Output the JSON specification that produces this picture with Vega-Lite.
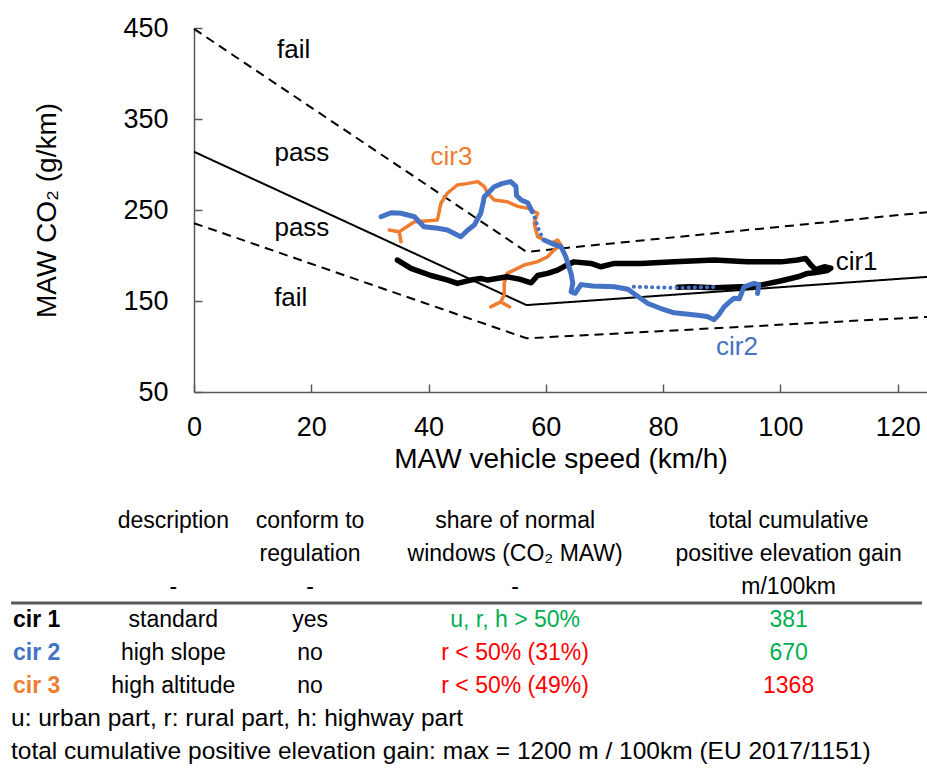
{
  "$schema": "https://vega.github.io/schema/vega-lite/v6.json",
  "background": "white",
  "padding": {"left": 9, "top": 14, "right": 0, "bottom": 0},
  "spacing": 31,
  "config": {
    "font": "Liberation Sans",
    "view": {"stroke": null},
    "axis": {
      "grid": false,
      "domainColor": "#595959", "domainWidth": 1.5,
      "tickColor": "#595959", "tickWidth": 1.5, "tickSize": -8,
      "labelColor": "#000000", "labelFont": "Liberation Sans", "labelFontSize": 27, "labelFlush": false,
      "titleColor": "#000000", "titleFont": "Liberation Sans", "titleFontSize": 28, "titleFontWeight": "normal"
    }
  },
  "resolve": {"scale": {"color": "independent"}},
  "datasets": {
    "limits": [
      {"line": "reference", "kind": "limit", "speed": 0, "co2": 314},
      {"line": "reference", "kind": "limit", "speed": 56.7, "co2": 145.5},
      {"line": "reference", "kind": "limit", "speed": 125, "co2": 176.5},
      {"line": "upper", "kind": "tolerance", "speed": 0, "co2": 449},
      {"line": "upper", "kind": "tolerance", "speed": 56.7, "co2": 204},
      {"line": "upper", "kind": "tolerance", "speed": 125, "co2": 247.5},
      {"line": "lower", "kind": "tolerance", "speed": 0, "co2": 235.5},
      {"line": "lower", "kind": "tolerance", "speed": 56.7, "co2": 109},
      {"line": "lower", "kind": "tolerance", "speed": 125, "co2": 132.5}
    ],
    "zones": [
      {"zone": "fail", "speed": 17, "co2": 426},
      {"zone": "pass", "speed": 18.4, "co2": 313},
      {"zone": "pass", "speed": 18.4, "co2": 230},
      {"zone": "fail", "speed": 16.5, "co2": 153}
    ],
    "circuitLabels": [
      {"circuit": "cir1", "speed": 113, "co2": 192.4},
      {"circuit": "cir2", "speed": 92.6, "co2": 99.5},
      {"circuit": "cir3", "speed": 43.9, "co2": 308.3}
    ],
    "traces": [
      {"circuit": "cir1", "seg": 1, "coverage": "dense", "i": 0, "speed": 34.7, "co2": 195},
      {"circuit": "cir1", "seg": 1, "coverage": "dense", "i": 1, "speed": 37, "co2": 185.8},
      {"circuit": "cir1", "seg": 1, "coverage": "dense", "i": 2, "speed": 40.4, "co2": 178},
      {"circuit": "cir1", "seg": 1, "coverage": "dense", "i": 3, "speed": 43.3, "co2": 173},
      {"circuit": "cir1", "seg": 1, "coverage": "dense", "i": 4, "speed": 44.9, "co2": 169.3},
      {"circuit": "cir1", "seg": 1, "coverage": "dense", "i": 5, "speed": 47.2, "co2": 173},
      {"circuit": "cir1", "seg": 1, "coverage": "dense", "i": 6, "speed": 48.9, "co2": 174.8},
      {"circuit": "cir1", "seg": 1, "coverage": "dense", "i": 7, "speed": 50.1, "co2": 173},
      {"circuit": "cir1", "seg": 1, "coverage": "dense", "i": 8, "speed": 53.4, "co2": 176.6},
      {"circuit": "cir1", "seg": 1, "coverage": "dense", "i": 9, "speed": 55.5, "co2": 174},
      {"circuit": "cir1", "seg": 1, "coverage": "dense", "i": 10, "speed": 57.5, "co2": 170},
      {"circuit": "cir1", "seg": 1, "coverage": "dense", "i": 11, "speed": 58.6, "co2": 178},
      {"circuit": "cir1", "seg": 1, "coverage": "dense", "i": 12, "speed": 60.3, "co2": 180.3},
      {"circuit": "cir1", "seg": 1, "coverage": "dense", "i": 13, "speed": 62, "co2": 184},
      {"circuit": "cir1", "seg": 1, "coverage": "dense", "i": 14, "speed": 63.7, "co2": 190},
      {"circuit": "cir1", "seg": 1, "coverage": "dense", "i": 15, "speed": 64.8, "co2": 193},
      {"circuit": "cir1", "seg": 1, "coverage": "dense", "i": 16, "speed": 67.7, "co2": 191.3},
      {"circuit": "cir1", "seg": 1, "coverage": "dense", "i": 17, "speed": 69.4, "co2": 187.6},
      {"circuit": "cir1", "seg": 1, "coverage": "dense", "i": 18, "speed": 71.7, "co2": 191.3},
      {"circuit": "cir1", "seg": 1, "coverage": "dense", "i": 19, "speed": 76.2, "co2": 191.3},
      {"circuit": "cir1", "seg": 1, "coverage": "dense", "i": 20, "speed": 81.9, "co2": 193},
      {"circuit": "cir1", "seg": 1, "coverage": "dense", "i": 21, "speed": 88.7, "co2": 195},
      {"circuit": "cir1", "seg": 1, "coverage": "dense", "i": 22, "speed": 94.4, "co2": 193},
      {"circuit": "cir1", "seg": 1, "coverage": "dense", "i": 23, "speed": 100.1, "co2": 193},
      {"circuit": "cir1", "seg": 1, "coverage": "dense", "i": 24, "speed": 102.9, "co2": 195},
      {"circuit": "cir1", "seg": 1, "coverage": "dense", "i": 25, "speed": 104.3, "co2": 196.8},
      {"circuit": "cir1", "seg": 1, "coverage": "dense", "i": 26, "speed": 105.2, "co2": 189.5},
      {"circuit": "cir1", "seg": 1, "coverage": "dense", "i": 27, "speed": 106, "co2": 184.5},
      {"circuit": "cir1", "seg": 1, "coverage": "dense", "i": 28, "speed": 107.5, "co2": 187.6},
      {"circuit": "cir1", "seg": 1, "coverage": "dense", "i": 29, "speed": 108.6, "co2": 186},
      {"circuit": "cir1", "seg": 1, "coverage": "dense", "i": 30, "speed": 108, "co2": 183.5},
      {"circuit": "cir1", "seg": 1, "coverage": "dense", "i": 31, "speed": 105.8, "co2": 181},
      {"circuit": "cir1", "seg": 1, "coverage": "dense", "i": 32, "speed": 104.6, "co2": 180.3},
      {"circuit": "cir1", "seg": 1, "coverage": "dense", "i": 33, "speed": 103, "co2": 176.6},
      {"circuit": "cir1", "seg": 1, "coverage": "dense", "i": 34, "speed": 100, "co2": 172},
      {"circuit": "cir1", "seg": 1, "coverage": "dense", "i": 35, "speed": 97, "co2": 168},
      {"circuit": "cir1", "seg": 1, "coverage": "dense", "i": 36, "speed": 94.4, "co2": 166},
      {"circuit": "cir1", "seg": 1, "coverage": "dense", "i": 37, "speed": 88.7, "co2": 164.5},
      {"circuit": "cir1", "seg": 1, "coverage": "dense", "i": 38, "speed": 84.7, "co2": 165.6},
      {"circuit": "cir1", "seg": 1, "coverage": "dense", "i": 39, "speed": 82.5, "co2": 165},

      {"circuit": "cir2", "seg": 1, "coverage": "dense", "i": 0, "speed": 31.9, "co2": 242.6},
      {"circuit": "cir2", "seg": 1, "coverage": "dense", "i": 1, "speed": 33.6, "co2": 247},
      {"circuit": "cir2", "seg": 1, "coverage": "dense", "i": 2, "speed": 35.3, "co2": 246.4},
      {"circuit": "cir2", "seg": 1, "coverage": "dense", "i": 3, "speed": 37.6, "co2": 242.6},
      {"circuit": "cir2", "seg": 1, "coverage": "dense", "i": 4, "speed": 39.2, "co2": 231.6},
      {"circuit": "cir2", "seg": 1, "coverage": "dense", "i": 5, "speed": 41.6, "co2": 229.9},
      {"circuit": "cir2", "seg": 1, "coverage": "dense", "i": 6, "speed": 43.2, "co2": 228},
      {"circuit": "cir2", "seg": 1, "coverage": "dense", "i": 7, "speed": 45.5, "co2": 220.6},
      {"circuit": "cir2", "seg": 1, "coverage": "dense", "i": 8, "speed": 46.7, "co2": 228},
      {"circuit": "cir2", "seg": 1, "coverage": "dense", "i": 9, "speed": 47.8, "co2": 233.5},
      {"circuit": "cir2", "seg": 1, "coverage": "dense", "i": 10, "speed": 48.9, "co2": 246.4},
      {"circuit": "cir2", "seg": 1, "coverage": "dense", "i": 11, "speed": 49.3, "co2": 258},
      {"circuit": "cir2", "seg": 1, "coverage": "dense", "i": 12, "speed": 49.5, "co2": 264.6},
      {"circuit": "cir2", "seg": 1, "coverage": "dense", "i": 13, "speed": 51.2, "co2": 275.6},
      {"circuit": "cir2", "seg": 1, "coverage": "dense", "i": 14, "speed": 52.5, "co2": 279},
      {"circuit": "cir2", "seg": 1, "coverage": "dense", "i": 15, "speed": 54, "co2": 281.2},
      {"circuit": "cir2", "seg": 1, "coverage": "dense", "i": 16, "speed": 54.9, "co2": 276},
      {"circuit": "cir2", "seg": 1, "coverage": "dense", "i": 17, "speed": 55, "co2": 266},
      {"circuit": "cir2", "seg": 1, "coverage": "dense", "i": 18, "speed": 55.8, "co2": 261},
      {"circuit": "cir2", "seg": 1, "coverage": "dense", "i": 19, "speed": 56.9, "co2": 258},
      {"circuit": "cir2", "seg": 1, "coverage": "dense", "i": 20, "speed": 57.7, "co2": 248},
      {"circuit": "cir2", "seg": 2, "coverage": "sparse", "i": 0, "speed": 57.7, "co2": 248},
      {"circuit": "cir2", "seg": 2, "coverage": "sparse", "i": 1, "speed": 58.3, "co2": 238},
      {"circuit": "cir2", "seg": 2, "coverage": "sparse", "i": 2, "speed": 58.9, "co2": 226},
      {"circuit": "cir2", "seg": 2, "coverage": "sparse", "i": 3, "speed": 59.7, "co2": 217},
      {"circuit": "cir2", "seg": 3, "coverage": "dense", "i": 0, "speed": 59.7, "co2": 217},
      {"circuit": "cir2", "seg": 3, "coverage": "dense", "i": 1, "speed": 61.5, "co2": 212},
      {"circuit": "cir2", "seg": 3, "coverage": "dense", "i": 2, "speed": 62.6, "co2": 209.6},
      {"circuit": "cir2", "seg": 3, "coverage": "dense", "i": 3, "speed": 63.4, "co2": 198.6},
      {"circuit": "cir2", "seg": 3, "coverage": "dense", "i": 4, "speed": 64.3, "co2": 180.3},
      {"circuit": "cir2", "seg": 3, "coverage": "dense", "i": 5, "speed": 64.6, "co2": 169.3},
      {"circuit": "cir2", "seg": 3, "coverage": "dense", "i": 6, "speed": 64.3, "co2": 160},
      {"circuit": "cir2", "seg": 3, "coverage": "dense", "i": 7, "speed": 65, "co2": 158.5},
      {"circuit": "cir2", "seg": 3, "coverage": "dense", "i": 8, "speed": 66, "co2": 168},
      {"circuit": "cir2", "seg": 3, "coverage": "dense", "i": 9, "speed": 68, "co2": 166.5},
      {"circuit": "cir2", "seg": 3, "coverage": "dense", "i": 10, "speed": 71.7, "co2": 165.6},
      {"circuit": "cir2", "seg": 3, "coverage": "dense", "i": 11, "speed": 74, "co2": 163},
      {"circuit": "cir2", "seg": 3, "coverage": "dense", "i": 12, "speed": 75, "co2": 158.3},
      {"circuit": "cir2", "seg": 3, "coverage": "dense", "i": 13, "speed": 77.4, "co2": 147.3},
      {"circuit": "cir2", "seg": 3, "coverage": "dense", "i": 14, "speed": 79.5, "co2": 142},
      {"circuit": "cir2", "seg": 3, "coverage": "dense", "i": 15, "speed": 81.9, "co2": 137},
      {"circuit": "cir2", "seg": 3, "coverage": "dense", "i": 16, "speed": 85.9, "co2": 134.4},
      {"circuit": "cir2", "seg": 3, "coverage": "dense", "i": 17, "speed": 87.5, "co2": 133},
      {"circuit": "cir2", "seg": 3, "coverage": "dense", "i": 18, "speed": 88.7, "co2": 129.5},
      {"circuit": "cir2", "seg": 3, "coverage": "dense", "i": 19, "speed": 89.5, "co2": 135},
      {"circuit": "cir2", "seg": 3, "coverage": "dense", "i": 20, "speed": 90.4, "co2": 143.6},
      {"circuit": "cir2", "seg": 3, "coverage": "dense", "i": 21, "speed": 91.5, "co2": 150},
      {"circuit": "cir2", "seg": 3, "coverage": "dense", "i": 22, "speed": 92.1, "co2": 153},
      {"circuit": "cir2", "seg": 3, "coverage": "dense", "i": 23, "speed": 93, "co2": 152.5},
      {"circuit": "cir2", "seg": 3, "coverage": "dense", "i": 24, "speed": 93.8, "co2": 165.6},
      {"circuit": "cir2", "seg": 3, "coverage": "dense", "i": 25, "speed": 95.5, "co2": 169.3},
      {"circuit": "cir2", "seg": 3, "coverage": "dense", "i": 26, "speed": 96.3, "co2": 168},
      {"circuit": "cir2", "seg": 3, "coverage": "dense", "i": 27, "speed": 96.1, "co2": 158.3},
      {"circuit": "cir2", "seg": 4, "coverage": "sparse", "i": 0, "speed": 75, "co2": 165.6},
      {"circuit": "cir2", "seg": 4, "coverage": "sparse", "i": 1, "speed": 82, "co2": 164.5},
      {"circuit": "cir2", "seg": 4, "coverage": "sparse", "i": 2, "speed": 89, "co2": 165.3},

      {"circuit": "cir3", "seg": 1, "coverage": "dense", "i": 0, "speed": 33.3, "co2": 228},
      {"circuit": "cir3", "seg": 1, "coverage": "dense", "i": 1, "speed": 35, "co2": 226},
      {"circuit": "cir3", "seg": 1, "coverage": "dense", "i": 2, "speed": 35.3, "co2": 215},
      {"circuit": "cir3", "seg": 1, "coverage": "dense", "i": 3, "speed": 35, "co2": 226},
      {"circuit": "cir3", "seg": 1, "coverage": "dense", "i": 4, "speed": 35.9, "co2": 230},
      {"circuit": "cir3", "seg": 1, "coverage": "dense", "i": 5, "speed": 37.6, "co2": 237},
      {"circuit": "cir3", "seg": 1, "coverage": "dense", "i": 6, "speed": 39.5, "co2": 238},
      {"circuit": "cir3", "seg": 1, "coverage": "dense", "i": 7, "speed": 41.5, "co2": 239},
      {"circuit": "cir3", "seg": 1, "coverage": "dense", "i": 8, "speed": 42.1, "co2": 257.4},
      {"circuit": "cir3", "seg": 1, "coverage": "dense", "i": 9, "speed": 43.2, "co2": 268.4},
      {"circuit": "cir3", "seg": 1, "coverage": "dense", "i": 10, "speed": 44.9, "co2": 277.5},
      {"circuit": "cir3", "seg": 1, "coverage": "dense", "i": 11, "speed": 46.5, "co2": 279},
      {"circuit": "cir3", "seg": 1, "coverage": "dense", "i": 12, "speed": 48.4, "co2": 281.2},
      {"circuit": "cir3", "seg": 1, "coverage": "dense", "i": 13, "speed": 49.5, "co2": 275.6},
      {"circuit": "cir3", "seg": 1, "coverage": "dense", "i": 14, "speed": 50.1, "co2": 268.4},
      {"circuit": "cir3", "seg": 1, "coverage": "dense", "i": 15, "speed": 51.2, "co2": 261},
      {"circuit": "cir3", "seg": 1, "coverage": "dense", "i": 16, "speed": 53.4, "co2": 259.1},
      {"circuit": "cir3", "seg": 1, "coverage": "dense", "i": 17, "speed": 55.2, "co2": 254},
      {"circuit": "cir3", "seg": 1, "coverage": "dense", "i": 18, "speed": 56.9, "co2": 251.9},
      {"circuit": "cir3", "seg": 1, "coverage": "dense", "i": 19, "speed": 58.6, "co2": 246.4},
      {"circuit": "cir3", "seg": 1, "coverage": "dense", "i": 20, "speed": 58, "co2": 235.4},
      {"circuit": "cir3", "seg": 1, "coverage": "dense", "i": 21, "speed": 58.6, "co2": 220.6},
      {"circuit": "cir3", "seg": 1, "coverage": "dense", "i": 22, "speed": 60.9, "co2": 213.4},
      {"circuit": "cir3", "seg": 1, "coverage": "dense", "i": 23, "speed": 62, "co2": 217},
      {"circuit": "cir3", "seg": 1, "coverage": "dense", "i": 24, "speed": 62.6, "co2": 211.5},
      {"circuit": "cir3", "seg": 1, "coverage": "dense", "i": 25, "speed": 61.4, "co2": 206},
      {"circuit": "cir3", "seg": 1, "coverage": "dense", "i": 26, "speed": 60.3, "co2": 198.6},
      {"circuit": "cir3", "seg": 1, "coverage": "dense", "i": 27, "speed": 58.5, "co2": 193},
      {"circuit": "cir3", "seg": 1, "coverage": "dense", "i": 28, "speed": 56.3, "co2": 189.5},
      {"circuit": "cir3", "seg": 1, "coverage": "dense", "i": 29, "speed": 53.4, "co2": 180.3},
      {"circuit": "cir3", "seg": 1, "coverage": "dense", "i": 30, "speed": 52.9, "co2": 169.3},
      {"circuit": "cir3", "seg": 1, "coverage": "dense", "i": 31, "speed": 52.9, "co2": 156.4},
      {"circuit": "cir3", "seg": 1, "coverage": "dense", "i": 32, "speed": 52.3, "co2": 149},
      {"circuit": "cir3", "seg": 1, "coverage": "dense", "i": 33, "speed": 50.6, "co2": 143.6},
      {"circuit": "cir3", "seg": 1, "coverage": "dense", "i": 34, "speed": 52.3, "co2": 149},
      {"circuit": "cir3", "seg": 1, "coverage": "dense", "i": 35, "speed": 53.8, "co2": 143.6}
    ],
    "table": [
      {"row": "h1", "column": "description", "text": "description", "verdict": "neutral"},
      {"row": "h1", "column": "conform", "text": "conform to", "verdict": "neutral"},
      {"row": "h1", "column": "share", "text": "share of normal", "verdict": "neutral"},
      {"row": "h1", "column": "gain", "text": "total cumulative", "verdict": "neutral"},
      {"row": "h2", "column": "conform", "text": "regulation", "verdict": "neutral"},
      {"row": "h2", "column": "share", "text": "windows (CO₂ MAW)", "verdict": "neutral"},
      {"row": "h2", "column": "gain", "text": "positive elevation gain", "verdict": "neutral"},
      {"row": "h3", "column": "description", "text": "-", "verdict": "neutral"},
      {"row": "h3", "column": "conform", "text": "-", "verdict": "neutral"},
      {"row": "h3", "column": "share", "text": "-", "verdict": "neutral"},
      {"row": "h3", "column": "gain", "text": "m/100km", "verdict": "neutral"},
      {"row": "r1", "column": "label", "text": "cir 1", "circuit": "cir1"},
      {"row": "r1", "column": "description", "text": "standard", "verdict": "neutral"},
      {"row": "r1", "column": "conform", "text": "yes", "verdict": "neutral"},
      {"row": "r1", "column": "share", "text": "u, r, h > 50%", "verdict": "within"},
      {"row": "r1", "column": "gain", "text": "381", "verdict": "within"},
      {"row": "r2", "column": "label", "text": "cir 2", "circuit": "cir2"},
      {"row": "r2", "column": "description", "text": "high slope", "verdict": "neutral"},
      {"row": "r2", "column": "conform", "text": "no", "verdict": "neutral"},
      {"row": "r2", "column": "share", "text": "r < 50% (31%)", "verdict": "exceeded"},
      {"row": "r2", "column": "gain", "text": "670", "verdict": "within"},
      {"row": "r3", "column": "label", "text": "cir 3", "circuit": "cir3"},
      {"row": "r3", "column": "description", "text": "high altitude", "verdict": "neutral"},
      {"row": "r3", "column": "conform", "text": "no", "verdict": "neutral"},
      {"row": "r3", "column": "share", "text": "r < 50% (49%)", "verdict": "exceeded"},
      {"row": "r3", "column": "gain", "text": "1368", "verdict": "exceeded"}
    ],
    "notes": [
      {"row": "f1", "text": "u: urban part, r: rural part, h: highway part"},
      {"row": "f2", "text": "total cumulative positive elevation gain: max = 1200 m / 100km (EU 2017/1151)"}
    ]
  },
  "vconcat": [
    {
      "width": 733,
      "height": 364,
      "encoding": {
        "x": {"field": "speed", "type": "quantitative", "scale": {"domain": [0, 125], "nice": false, "zero": true},
              "axis": {"values": [0, 20, 40, 60, 80, 100, 120], "title": "MAW vehicle speed  (km/h)", "labelPadding": 30, "titlePadding": 5}},
        "y": {"field": "co2", "type": "quantitative", "scale": {"domain": [50, 450], "nice": false, "zero": false},
              "axis": {"values": [50, 150, 250, 350, 450], "title": "MAW CO₂ (g/km)", "labelPadding": 34, "titlePadding": 61}}
      },
      "layer": [
        {
          "data": {"name": "limits"},
          "mark": {"type": "line", "color": "#000000", "strokeWidth": 2},
          "encoding": {
            "detail": {"field": "line"},
            "strokeDash": {"field": "kind", "type": "nominal", "scale": {"domain": ["limit", "tolerance"], "range": [[1, 0], [9, 6]]}, "legend": null}
          }
        },
        {
          "data": {"name": "traces"},
          "transform": [{"filter": "datum.circuit === 'cir3'"}],
          "mark": {"type": "line", "strokeWidth": 3.5, "strokeCap": "round", "strokeJoin": "round"},
          "encoding": {
            "color": {"field": "circuit", "type": "nominal", "scale": {"domain": ["cir1", "cir2", "cir3"], "range": ["#000000", "#4472C4", "#ED7D31"]}, "legend": null},
            "detail": {"field": "seg"},
            "order": {"field": "i"}
          }
        },
        {
          "data": {"name": "traces"},
          "transform": [{"filter": "datum.circuit === 'cir1'"}],
          "mark": {"type": "line", "strokeWidth": 5.5, "strokeCap": "round", "strokeJoin": "round"},
          "encoding": {
            "color": {"field": "circuit", "type": "nominal", "legend": null},
            "detail": {"field": "seg"},
            "order": {"field": "i"}
          }
        },
        {
          "data": {"name": "traces"},
          "transform": [{"filter": "datum.circuit === 'cir2' && datum.coverage === 'dense'"}],
          "mark": {"type": "line", "strokeWidth": 5, "strokeCap": "round", "strokeJoin": "round"},
          "encoding": {
            "color": {"field": "circuit", "type": "nominal", "legend": null},
            "detail": {"field": "seg"},
            "order": {"field": "i"}
          }
        },
        {
          "data": {"name": "traces"},
          "transform": [{"filter": "datum.circuit === 'cir2' && datum.coverage === 'sparse'"}],
          "mark": {"type": "line", "strokeWidth": 4, "strokeCap": "round", "strokeDash": [0.1, 6]},
          "encoding": {
            "color": {"field": "circuit", "type": "nominal", "legend": null},
            "detail": {"field": "seg"},
            "order": {"field": "i"}
          }
        },
        {
          "data": {"name": "zones"},
          "mark": {"type": "text", "fontSize": 26, "color": "#000000"},
          "encoding": {"text": {"field": "zone"}}
        },
        {
          "data": {"name": "circuitLabels"},
          "mark": {"type": "text", "fontSize": 26},
          "encoding": {
            "text": {"field": "circuit"},
            "color": {"field": "circuit", "type": "nominal", "legend": null}
          }
        }
      ]
    },
    {
      "width": 733,
      "height": 264,
      "layer": [
        {
          "data": {"name": "table"},
          "transform": [{"filter": "datum.column === 'label'"}],
          "mark": {"type": "text", "fontSize": 23, "fontWeight": "bold"},
          "encoding": {
            "x": {"field": "column", "type": "nominal", "axis": null,
                  "scale": {"type": "point", "padding": 0, "range": [-157.4, 594.6],
                            "domain": ["label", "g1", "description", "g2", "conform", "g3", "g4", "share", "g5", "g6", "g7", "gain"]}},
            "y": {"field": "row", "type": "nominal", "axis": null,
                  "scale": {"type": "band", "paddingInner": 0, "paddingOuter": 0, "domain": ["h1", "h2", "h3", "r1", "r2", "r3", "f1", "f2"]}},
            "text": {"field": "text"},
            "color": {"field": "circuit", "type": "nominal", "scale": {"domain": ["cir1", "cir2", "cir3"], "range": ["#000000", "#4472C4", "#ED7D31"]}, "legend": null}
          }
        },
        {
          "data": {"name": "table"},
          "transform": [{"filter": "datum.column !== 'label'"}],
          "mark": {"type": "text", "fontSize": 23},
          "encoding": {
            "x": {"field": "column", "type": "nominal", "axis": null,
                  "scale": {"type": "point", "padding": 0, "range": [-157.4, 594.6],
                            "domain": ["label", "g1", "description", "g2", "conform", "g3", "g4", "share", "g5", "g6", "g7", "gain"]}},
            "y": {"field": "row", "type": "nominal", "axis": null},
            "text": {"field": "text"},
            "color": {"field": "verdict", "type": "nominal", "scale": {"domain": ["neutral", "within", "exceeded"], "range": ["#000000", "#00B050", "#FF0000"]}, "legend": null}
          }
        },
        {
          "data": {"values": [{"divider": "header"}]},
          "mark": {"type": "rule", "color": "#595959", "strokeWidth": 3},
          "encoding": {
            "x": {"datum": "start", "type": "nominal", "axis": null,
                  "scale": {"type": "point", "padding": 0, "domain": ["start", "end"], "range": [-183, 728]}},
            "x2": {"datum": "end"},
            "y": {"datum": "r1", "type": "nominal", "bandPosition": 0, "axis": null}
          }
        },
        {
          "data": {"name": "notes"},
          "mark": {"type": "text", "fontSize": 24.5, "align": "left"},
          "encoding": {
            "x": {"datum": "start", "type": "nominal", "axis": null,
                  "scale": {"type": "point", "padding": 0, "domain": ["start", "end"], "range": [-183, 728]}},
            "y": {"field": "row", "type": "nominal", "axis": null},
            "text": {"field": "text"}
          }
        }
      ],
      "resolve": {"scale": {"x": "independent", "color": "independent"}}
    }
  ]
}
